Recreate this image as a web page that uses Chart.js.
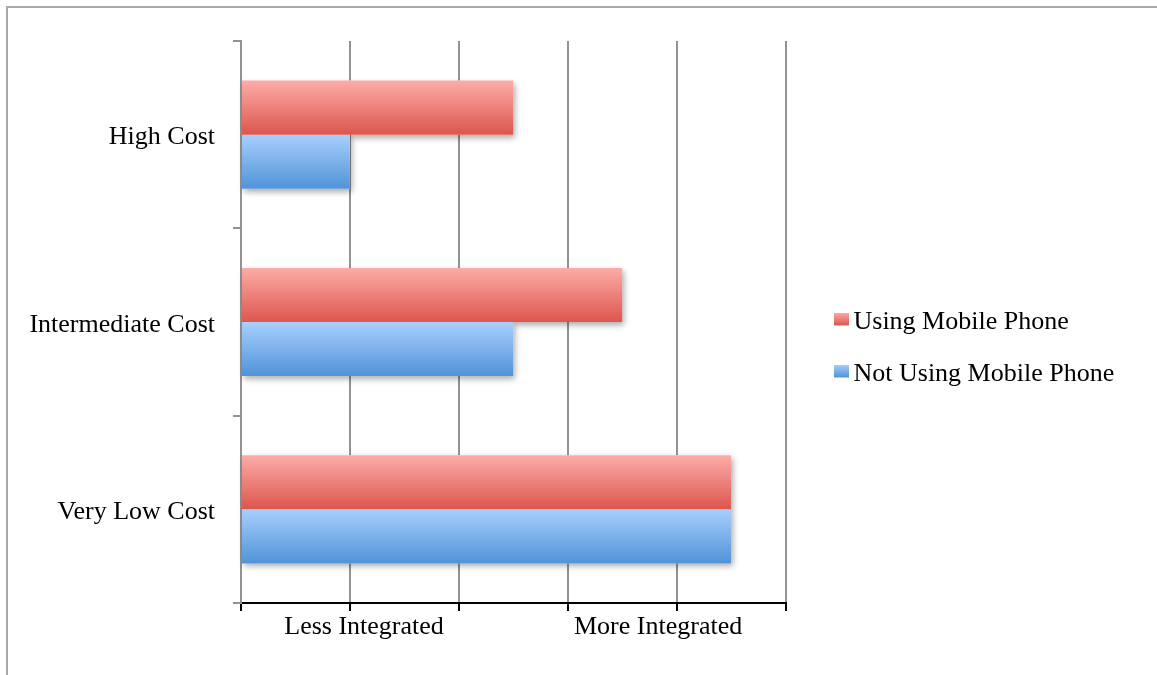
<!DOCTYPE html>
<html>
<head>
<meta charset="utf-8">
<script src="https://cdn.jsdelivr.net/npm/chart.js@4/dist/chart.umd.min.js"></script>
<style>
  html, body { margin: 0; padding: 0; background: #fff; }
  #wrap { position: relative; width: 1157px; height: 675px; overflow: hidden; }
  #wrap canvas { position: absolute; left: 0; top: 0; }
  #frame {
    position: absolute; left: 6px; top: 6px; right: -4px; bottom: -4px;
    border-left: 2px solid #a9a9a9; border-top: 2px solid #a9a9a9;
    pointer-events: none;
  }
</style>
</head>
<body>
<div id="wrap">
  <canvas id="chart" width="1157" height="675"></canvas>
  <div id="frame"></div>
</div>
<script>
// ---- data ----
const categories = ['High Cost', 'Intermediate Cost', 'Very Low Cost'];
const seriesNames = ['Using Mobile Phone', 'Not Using Mobile Phone'];
const usingMobile = [2.5, 3.5, 4.5];
const notUsingMobile = [1, 2.5, 4.5];
const integrationLabels = ['Less Integrated', 'More Integrated'];
const integrationLabelAt = [1.13, 3.83];
const scaleTicks = [0, 1, 2, 3, 4, 5];

// ---- style ----
const FONT = '"Liberation Serif", "Times New Roman", serif';
const GRID = '#939393';
const RED = ['#fdaca8', '#dc564e'];
const BLUE = ['#a8cffd', '#5193d8'];
const CAT_PCT = 0.577;
const LEGEND_WIDTH = 371.5;

// vertical gradient spanning one bar, located from the category scale
function barFill(colors) {
  return (c) => {
    const chart = c.chart;
    const y = chart.scales.y;
    if (!chart.chartArea || !y || c.type !== 'data') return colors[1];
    const center = y.getPixelForValue(c.dataIndex);
    const band = Math.abs(y.getPixelForValue(1) - y.getPixelForValue(0));
    const h = band * CAT_PCT / 2;
    const top = c.datasetIndex === 0 ? center - h : center;
    const g = chart.ctx.createLinearGradient(0, top, 0, top + h);
    g.addColorStop(0, colors[0]);
    g.addColorStop(1, colors[1]);
    return g;
  };
}

// small gradient swatches used as legend markers
function swatch(colors) {
  const cv = document.createElement('canvas');
  cv.width = 48; cv.height = 20;
  const cx = cv.getContext('2d');
  const g = cx.createLinearGradient(0, 0, 0, 13);
  g.addColorStop(0, colors[0]);
  g.addColorStop(1, colors[1]);
  cx.fillStyle = g;
  cx.fillRect(32, 0, 15, 13);
  return cv;
}
const legendSwatches = [swatch(RED), swatch(BLUE)];

// soft drop shadow under every bar, drawn before the bars themselves
const barShadow = {
  id: 'barShadow',
  beforeDatasetsDraw(chart) {
    const ctx = chart.ctx;
    ctx.save();
    ctx.fillStyle = '#ffffff';
    ctx.shadowColor = 'rgba(0,0,0,0.33)';
    ctx.shadowBlur = 6;
    ctx.shadowOffsetX = 2;
    ctx.shadowOffsetY = 3;
    chart.getSortedVisibleDatasetMetas().forEach(meta => {
      meta.data.forEach(el => {
        const p = el.getProps(['x', 'y', 'base', 'height'], true);
        ctx.fillRect(Math.min(p.x, p.base), p.y - p.height / 2, Math.abs(p.x - p.base), p.height);
      });
    });
    ctx.restore();
  }
};

// keep the legend column at a fixed width so the plot keeps its size
const fixedLegend = {
  id: 'fixedLegend',
  beforeLayout(chart) {
    const lg = chart.legend;
    if (lg && !lg._fixedWidth) {
      const fit = lg.fit.bind(lg);
      lg.fit = function () { fit(); this.width = LEGEND_WIDTH; };
      lg._fixedWidth = true;
    }
  }
};

const isWhole = (c) => c.tick && Number.isInteger(c.tick.value);

new Chart(document.getElementById('chart'), {
  type: 'bar',
  data: {
    labels: categories,
    datasets: [
      { label: seriesNames[0], data: usingMobile, backgroundColor: barFill(RED) },
      { label: seriesNames[1], data: notUsingMobile, backgroundColor: barFill(BLUE) }
    ]
  },
  options: {
    indexAxis: 'y',
    responsive: false,
    animation: false,
    devicePixelRatio: 1,
    layout: { padding: { top: 41, bottom: 19, left: 0, right: 0 } },
    datasets: {
      bar: { categoryPercentage: CAT_PCT, barPercentage: 1, borderWidth: 0 }
    },
    scales: {
      x: {
        type: 'linear',
        min: scaleTicks[0],
        max: scaleTicks[scaleTicks.length - 1],
        grid: {
          color: (c) => isWhole(c) ? GRID : 'rgba(0,0,0,0)',
          lineWidth: 2,
          tickColor: (c) => isWhole(c) ? '#000' : 'rgba(0,0,0,0)',
          tickWidth: 2,
          tickLength: 8
        },
        border: { color: '#000', width: 2 },
        ticks: {
          autoSkip: false,
          maxRotation: 0,
          color: '#000',
          padding: 3,
          font: { family: FONT, size: 26, lineHeight: 1 },
          callback: (v) => {
            const i = integrationLabelAt.indexOf(v);
            return i >= 0 ? integrationLabels[i] : '';
          }
        },
        afterBuildTicks(s) {
          s.ticks = scaleTicks.concat(integrationLabelAt)
            .sort((a, b) => a - b)
            .map(v => ({ value: v }));
        },
        afterFit(s) { s.height = 53; }
      },
      y: {
        type: 'category',
        offset: true,
        grid: { offset: true, drawOnChartArea: false, color: GRID, lineWidth: 2, tickLength: 8 },
        border: { color: GRID, width: 2 },
        ticks: { color: '#000', padding: 18, labelOffset: 3, font: { family: FONT, size: 26 } },
        afterFit(s) { s.width = 241; }
      }
    },
    plugins: {
      tooltip: { enabled: false },
      legend: {
        position: 'right',
        labels: {
          usePointStyle: true,
          pointStyleWidth: 29,
          padding: 26,
          color: '#000',
          font: { family: FONT, size: 26 },
          generateLabels(chart) {
            const items = Chart.defaults.plugins.legend.labels.generateLabels(chart);
            items.forEach((it, i) => { it.pointStyle = legendSwatches[i]; });
            return items;
          }
        }
      }
    }
  },
  plugins: [barShadow, fixedLegend]
});
</script>
</body>
</html>
